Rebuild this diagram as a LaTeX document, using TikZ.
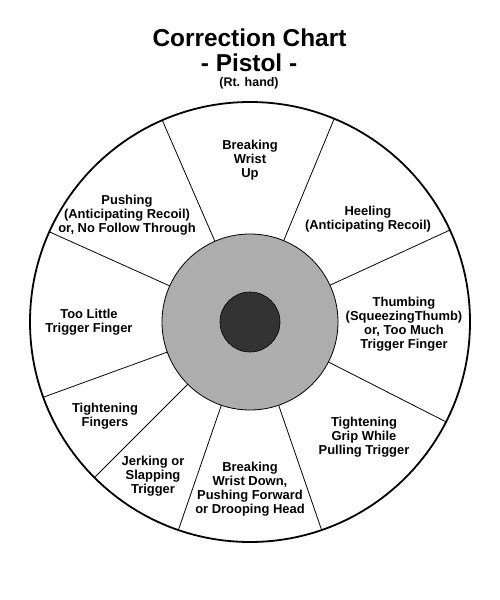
\documentclass[tikz,border=0pt]{standalone}
\usepackage{fontspec}
\setmainfont{Liberation Sans}
\usetikzlibrary{calc}
\definecolor{ringgray}{HTML}{ADADAD}
\definecolor{bullgray}{HTML}{333333}
\begin{document}
\begin{tikzpicture}[x=1bp,y=-1bp,
  lbl/.style={align=center,inner sep=0pt,font=\fontsize{13}{14}\selectfont\bfseries},
  ttl/.style={anchor=base,inner sep=0pt,font=\fontsize{24.5}{26}\selectfont\bfseries},
  divider/.style={draw=black,line width=0.8bp}]
\useasboundingbox (0,0) rectangle (500,600);
\coordinate (c) at (250,322);
% title
\node[ttl] (t1) at (249.5,47) {Correction Chart};
\node[ttl] (t2) at (249,72) {- Pistol -};
\node[anchor=base,inner sep=0pt,font=\fontsize{12.5}{14}\selectfont\bfseries] (t3) at (249,87) {(Rt. hand)};
% circles
\draw[line width=1.8bp,fill=white] (c) circle[radius=220bp];
\foreach \a in {113.5,67.5,24.7,-27,-71,-109,-135,-160,155.8}{
  \draw[divider] ($(c)+(-\a:88)$) -- ($(c)+(-\a:220)$);
}
\draw[line width=0.8bp,fill=ringgray] (c) circle[radius=88bp];
\draw[line width=0.6bp,fill=bullgray] (c) circle[radius=30bp];
% labels
\node[lbl] (l1) at (250,160) {Breaking\\Wrist\\Up};
\node[lbl] (l2) at (368,219) {Heeling\\(Anticipating Recoil)};
\node[lbl] (l3) at (404,324) {Thumbing\\(SqueezingThumb)\\or, Too Much\\Trigger Finger};
\node[lbl] (l4) at (364,437) {Tightening\\Grip While\\Pulling Trigger};
\node[lbl] (l5) at (250,489) {Breaking\\Wrist Down,\\Pushing Forward\\or Drooping Head};
\node[lbl] (l6) at (153,476) {Jerking or\\Slapping\\Trigger};
\node[lbl] (l7) at (105,416) {Tightening\\Fingers};
\node[lbl] (l8) at (89,322) {Too Little\\Trigger Finger};
\node[lbl] (l9) at (127,215) {Pushing\\(Anticipating Recoil)\\or, No Follow Through};
\end{tikzpicture}
\end{document}
